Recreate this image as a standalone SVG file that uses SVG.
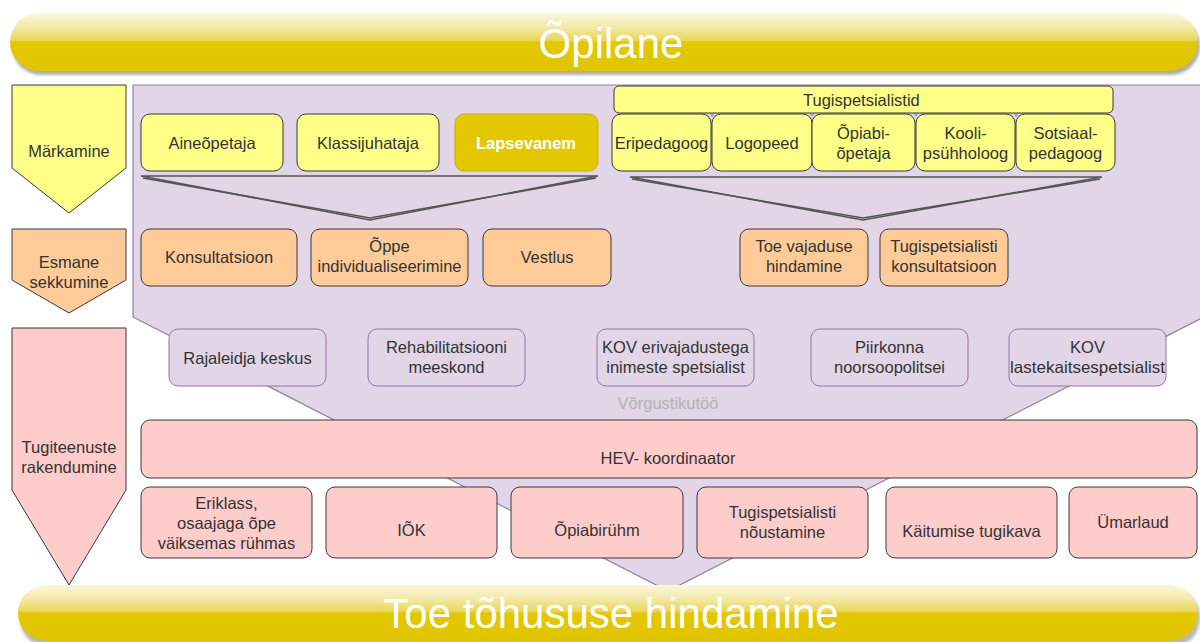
<svg xmlns="http://www.w3.org/2000/svg" width="1200" height="642" viewBox="0 0 1200 642">
<defs>
<linearGradient id="gloss" x1="0" y1="0" x2="0" y2="1">
<stop offset="0" stop-color="#fbf7e0"/>
<stop offset="0.25" stop-color="#f3e9a6"/>
<stop offset="0.47" stop-color="#ead658"/>
<stop offset="0.5" stop-color="#e3c800"/>
<stop offset="1" stop-color="#e0c400"/>
</linearGradient>
<filter id="sh" x="-5%" y="-20%" width="110%" height="160%">
<feGaussianBlur stdDeviation="1.5"/>
</filter>
<style>
text{font-family:"Liberation Sans",Arial,sans-serif;font-size:16.5px;fill:#333333;text-anchor:middle}
.y{fill:#ffff88;stroke:#36393d;stroke-width:1}
.o{fill:#ffcc99;stroke:#36393d;stroke-width:1}
.p{fill:#ffcccc;stroke:#36393d;stroke-width:1}
.v{fill:#e1d5e7;stroke:#9673a6;stroke-width:1}
.big{font-size:42px;fill:#ffffff}
.fun{fill:none;stroke:#555555;stroke-width:1.6;stroke-linejoin:miter}
</style>
</defs>

<!-- top bar -->
<g id="opilane">
<rect x="12" y="17" width="1188" height="58" rx="29" fill="#8a8a8a" filter="url(#sh)" opacity="0.7"/>
<rect x="10" y="13" width="1188" height="58" rx="29" fill="url(#gloss)"/>
<text class="big" x="611" y="58">Õpilane</text>
</g>

<!-- left stage arrows -->
<g id="markamine">
<polygon class="y" points="12,85 126,85 126,168 69,213 12,168"/>
<text x="69" y="157">Märkamine</text>
</g>
<g id="esmane">
<polygon class="o" points="12,229 126,229 126,280 69,313 12,280"/>
<text x="69" y="268">Esmane</text>
<text x="69" y="288">sekkumine</text>
</g>
<g id="tugiteenuste">
<polygon class="p" points="12,328 126,328 126,490 69,585 12,490"/>
<text x="69" y="453">Tugiteenuste</text>
<text x="69" y="473">rakendumine</text>
</g>

<!-- big purple network area -->
<g id="vorgustik">
<polygon points="133,85 1204,85 1204,317 668,591 133,317" fill="#e1d5e7" stroke="#8f7fa0" stroke-width="1.2"/>
<text x="668" y="409" style="fill:#b3b3b3">Võrgustikutöö</text>
</g>

<!-- connectors -->
<g id="connectors">
<polygon class="fun" points="141,176 598,176 370,220"/>
<polyline class="fun" points="143,178 370,218 596,178" stroke-width="1"/>
<polygon class="fun" points="630,177 1102,177 863,220"/>
<polyline class="fun" points="632,179 863,218 1100,179" stroke-width="1"/>
<g fill="#d6cce0" stroke="#7a7a8a" stroke-width="0.8">
<polygon points="709,111 715,111 712,116"/>
<polygon points="809,111 815,111 812,116"/>
<polygon points="913,111 919,111 916,116"/>
<polygon points="1013,111 1019,111 1016,116"/>
</g>
</g>

<!-- row 1 -->
<g id="aineopetaja"><rect class="y" x="141" y="114" width="142" height="57" rx="9"/><text x="212" y="149">Aineõpetaja</text></g>
<g id="klassijuhataja"><rect class="y" x="297" y="114" width="142" height="57" rx="9"/><text x="368" y="149">Klassijuhataja</text></g>
<g id="lapsevanem"><rect x="455" y="114" width="143" height="57" rx="9" fill="#e3c800" stroke="#c9b000"/><text x="526" y="149" style="fill:#ffffff;font-weight:bold">Lapsevanem</text></g>
<g id="tugispetsialistid"><rect class="y" x="614" y="86" width="499" height="27" rx="5"/><text x="803" y="106" style="text-anchor:start">Tugispetsialistid</text></g>
<g id="eripedagoog"><rect class="y" x="612" y="114" width="99" height="57" rx="9"/><text x="661.5" y="149">Eripedagoog</text></g>
<g id="logopeed"><rect class="y" x="712" y="114" width="100" height="57" rx="9"/><text x="762" y="149">Logopeed</text></g>
<g id="opiabiopetaja"><rect class="y" x="812" y="114" width="103" height="57" rx="9"/><text x="863.5" y="139">Õpiabi-</text><text x="863.5" y="159">õpetaja</text></g>
<g id="koolipsyhholoog"><rect class="y" x="916" y="114" width="99" height="57" rx="9"/><text x="965.5" y="139">Kooli-</text><text x="965.5" y="159">psühholoog</text></g>
<g id="sotsiaalpedagoog"><rect class="y" x="1016" y="114" width="99" height="57" rx="9"/><text x="1065.5" y="139">Sotsiaal-</text><text x="1065.5" y="159">pedagoog</text></g>

<!-- row 2 -->
<g id="konsultatsioon"><rect class="o" x="141" y="229" width="156" height="57" rx="9"/><text x="219" y="263">Konsultatsioon</text></g>
<g id="individualiseerimine"><rect class="o" x="311" y="229" width="157" height="57" rx="9"/><text x="389.5" y="252">Õppe</text><text x="389.5" y="272">individualiseerimine</text></g>
<g id="vestlus"><rect class="o" x="483" y="229" width="128" height="57" rx="9"/><text x="547" y="263">Vestlus</text></g>
<g id="toevajadus"><rect class="o" x="740" y="229" width="128" height="57" rx="9"/><text x="804" y="252">Toe vajaduse</text><text x="804" y="272">hindamine</text></g>
<g id="tugikonsultatsioon"><rect class="o" x="880" y="229" width="128" height="57" rx="9"/><text x="944" y="252">Tugispetsialisti</text><text x="944" y="272">konsultatsioon</text></g>

<!-- row 3 -->
<g id="rajaleidja"><rect class="v" x="169" y="329" width="157" height="57" rx="9"/><text x="247.5" y="364">Rajaleidja keskus</text></g>
<g id="rehabilitatsioon"><rect class="v" x="368" y="329" width="157" height="57" rx="9"/><text x="446.5" y="353">Rehabilitatsiooni</text><text x="446.5" y="373">meeskond</text></g>
<g id="koverivajadused"><rect class="v" x="597" y="329" width="157" height="57" rx="9"/><text x="675.5" y="353">KOV erivajadustega</text><text x="675.5" y="373">inimeste spetsialist</text></g>
<g id="noorsoopolitsei"><rect class="v" x="811" y="329" width="157" height="57" rx="9"/><text x="889.5" y="353">Piirkonna</text><text x="889.5" y="373">noorsoopolitsei</text></g>
<g id="lastekaitse"><rect class="v" x="1009" y="329" width="157" height="57" rx="9"/><text x="1087.5" y="353">KOV</text><text x="1087.5" y="373" textLength="155" lengthAdjust="spacingAndGlyphs">lastekaitsespetsialist</text></g>

<!-- row 4 -->
<g id="hev"><rect class="p" x="141" y="420" width="1056" height="58" rx="9"/><text x="668" y="464">HEV- koordinaator</text></g>

<!-- row 5 -->
<g id="eriklass"><rect class="p" x="141" y="487" width="171" height="71" rx="9"/><text x="226.5" y="509">Eriklass,</text><text x="226.5" y="529">osaajaga õpe</text><text x="226.5" y="549">väiksemas rühmas</text></g>
<g id="iok"><rect class="p" x="326" y="487" width="171" height="71" rx="9"/><text x="411.5" y="536">IÕK</text></g>
<g id="opiabiryhm"><rect class="p" x="511" y="487" width="172" height="71" rx="9"/><text x="597" y="536">Õpiabirühm</text></g>
<g id="noustamine"><rect class="p" x="697" y="487" width="171" height="71" rx="9"/><text x="782.5" y="518">Tugispetsialisti</text><text x="782.5" y="538">nõustamine</text></g>
<g id="tugikava"><rect class="p" x="886" y="487" width="171" height="71" rx="9"/><text x="971.5" y="537">Käitumise tugikava</text></g>
<g id="umarlaud"><rect class="p" x="1069" y="487" width="128" height="71" rx="9"/><text x="1133" y="528">Ümarlaud</text></g>

<!-- bottom bar -->
<g id="toetohusus">
<rect x="20" y="589" width="1180" height="58" rx="28" fill="#8a8a8a" filter="url(#sh)" opacity="0.6"/>
<rect x="18" y="585" width="1180" height="56" rx="28" fill="url(#gloss)"/>
<text class="big" x="611" y="628">Toe tõhususe hindamine</text>
</g>
</svg>
